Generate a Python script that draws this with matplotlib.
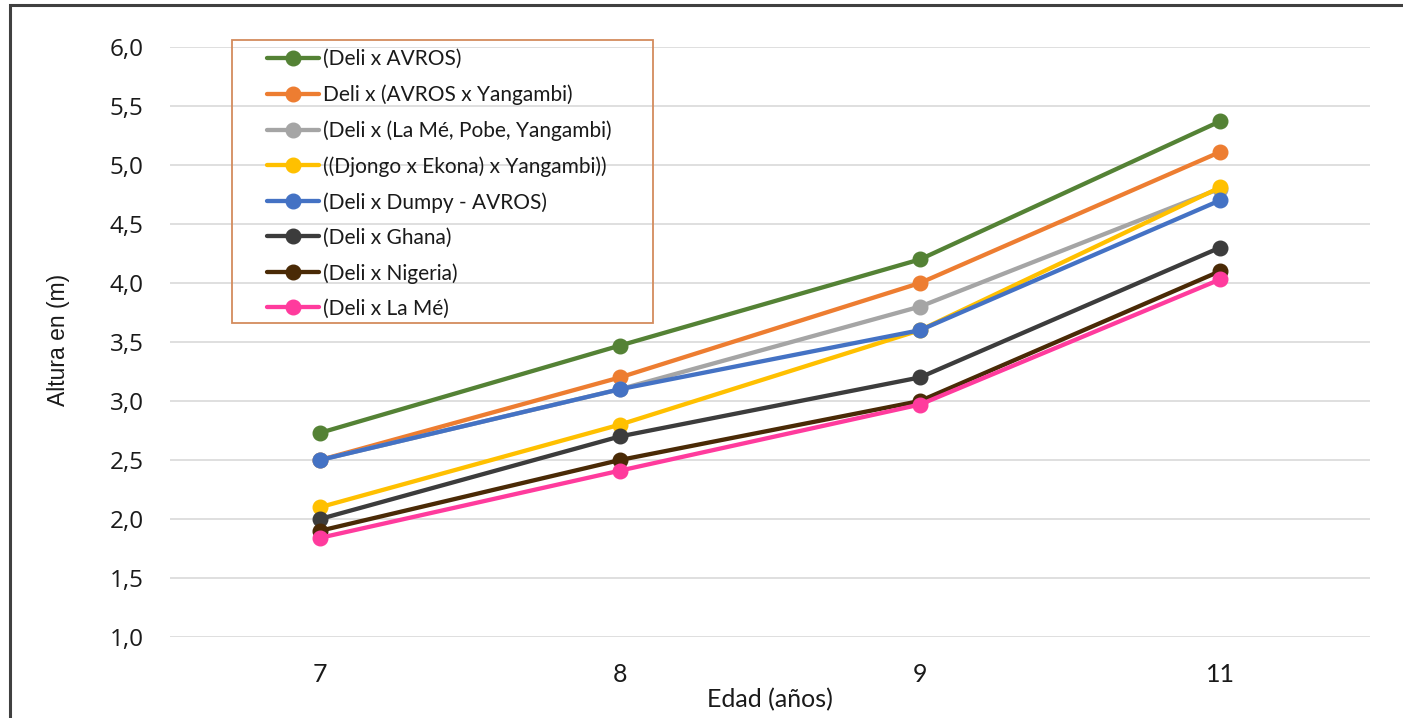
import matplotlib
matplotlib.use("Agg")
import matplotlib.pyplot as plt
import matplotlib.patches as patches
from matplotlib.ticker import FuncFormatter, MultipleLocator

# edades de medición
edades = ["7", "8", "9", "11"]

# altura media (m) por cruzamiento
deli_avros = [2.73, 3.47, 4.20, 5.37]
deli_avros_yangambi = [2.50, 3.20, 4.00, 5.11]
deli_lame_pobe = [2.50, 3.10, 3.80, 4.80]
djongo_ekona = [2.10, 2.80, 3.60, 4.81]
deli_dumpy = [2.50, 3.10, 3.60, 4.70]
deli_ghana = [2.00, 2.70, 3.20, 4.30]
deli_nigeria = [1.90, 2.50, 3.00, 4.10]
deli_lame = [1.84, 2.41, 2.97, 4.03]

etiquetas = ["(Deli x AVROS)", "Deli x (AVROS x Yangambi)", "(Deli x (La Mé, Pobe, Yangambi)",
             "((Djongo x Ekona) x Yangambi))", "(Deli x Dumpy - AVROS)", "(Deli x Ghana)",
             "(Deli x Nigeria)", "(Deli x La Mé)"]
colores = ["#548235", "#ED7D31", "#A5A5A5", "#FFC000", "#4472C4", "#3C3C3C", "#4A2A06", "#FF3B9D"]

series = [deli_avros, deli_avros_yangambi, deli_lame_pobe, djongo_ekona,
          deli_dumpy, deli_ghana, deli_nigeria, deli_lame]

W, H = 1403, 718
fig = plt.figure(figsize=(W / 100, H / 100), dpi=100)
ax = fig.add_axes([170 / W, 1 - 637 / H, 1200 / W, 590 / H])

pos = list(range(len(edades)))
lineas = []
for vals, lab, col in zip(series, etiquetas, colores):
    ln, = ax.plot(pos, vals, color=col, lw=3.1, marker="o", markersize=10.5,
                  solid_capstyle="round", label=lab, zorder=3)
    lineas.append(ln)

ax.set_xlim(-0.5, len(edades) - 0.5)
ax.set_ylim(1.0, 6.0)
ax.yaxis.set_major_locator(MultipleLocator(0.5))
ax.yaxis.set_major_formatter(FuncFormatter(lambda v, p: f"{v:.1f}".replace(".", ",")))
ax.set_xticks(pos)
ax.set_xticklabels(edades)

ax.yaxis.grid(True, color="#D9D9D9", lw=1.2, zorder=0)
ax.set_axisbelow(True)
for s in ax.spines.values():
    s.set_visible(False)
ax.tick_params(axis="both", length=0)
ax.tick_params(axis="y", pad=19)
ax.tick_params(axis="x", pad=19)
for t in ax.get_yticklabels():
    t.set_fontfamily("Open Sans")
    t.set_fontsize(17.5)
    t.set_color("#1a1a1a")
for t in ax.get_xticklabels():
    t.set_fontfamily("Lato")
    t.set_fontsize(18)
    t.set_color("#1a1a1a")

fig.text(770 / W, 1 - 700 / H, "Edad (años)", ha="center", va="center",
         fontfamily="Lato", fontsize=18, color="#1a1a1a")
fig.text(58 / W, 1 - 340 / H, "Altura en (m)", rotation=90, ha="center", va="center",
         fontsize=16.5, color="#1a1a1a", family=["Liberation Sans Narrow", "Liberation Sans"])

# leyenda con marco propio
fig.add_artist(patches.Rectangle((232 / W, 1 - 323 / H), 421 / W, 283 / H,
                                 transform=fig.transFigure, fill=False,
                                 edgecolor="#D38B5D", lw=1.3))
leg = fig.legend(handles=lineas, loc="upper left", bbox_to_anchor=(259 / W, 1 - 41 / H),
                 frameon=False, handlelength=2.5, handletextpad=0.15, labelspacing=0.73,
                 prop={"family": "Lato", "size": 15}, borderaxespad=0)
for t in leg.get_texts():
    t.set_color("#1a1a1a")

# borde exterior del gráfico
fig.add_artist(patches.Rectangle((10 / W, -0.1), 1.2, 1.1 - 5 / H,
                                 transform=fig.transFigure, fill=False,
                                 edgecolor="#404040", lw=2.2))

fig.savefig("out.png", dpi=100)
